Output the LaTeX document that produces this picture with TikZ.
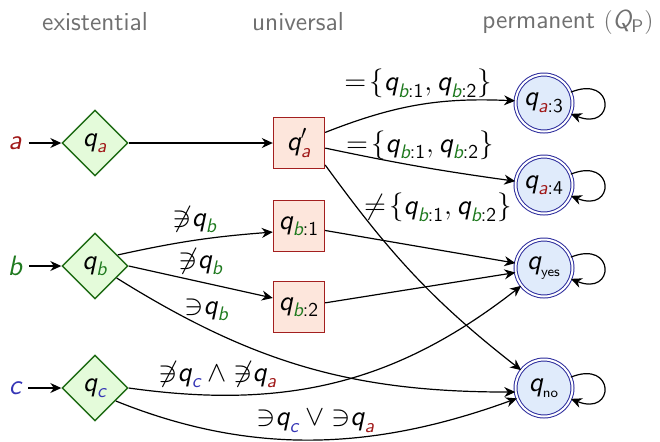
\documentclass[tikz,border=0pt]{standalone}
\usepackage{amsmath}
\usetikzlibrary{shapes.geometric,arrows.meta}
\definecolor{cA}{HTML}{A01818}
\definecolor{cB}{HTML}{1F7A1F}
\definecolor{cC}{HTML}{3535B5}
\definecolor{exFill}{HTML}{E4FBDA}
\definecolor{exDraw}{HTML}{1E6B14}
\definecolor{unFill}{HTML}{FDE6DC}
\definecolor{unDraw}{HTML}{A31F1F}
\definecolor{pmFill}{HTML}{E0EBFB}
\definecolor{pmDraw}{HTML}{2B2B9C}
\definecolor{hdr}{HTML}{707070}
\newcommand\qq{\text{\itshape q}}
\newcommand\ia{\text{\color{cA}\itshape a}}
\newcommand\ib{\text{\color{cB}\itshape b}}
\newcommand\ic{\text{\color{cC}\itshape c}}
\newcommand\qbn[1]{\qq_{\ib\text{:#1}}}
\newcommand\nni{{\not\ni}}
\newcommand\yni{{\ni}}
\tikzset{
  every node/.style={font=\sffamily\fontsize{14}{16}\selectfont},
  hdrtext/.style={text=hdr, font=\sffamily\fontsize{13}{15}\selectfont},
  exstate/.style={diamond, draw=exDraw, fill=exFill, line width=0.7pt, minimum width=33pt, minimum height=33pt, inner sep=0pt},
  unstate/.style={rectangle, draw=unDraw, fill=unFill, line width=0.7pt, minimum width=25.5pt, minimum height=25.5pt, inner sep=0pt},
  pmstate/.style={circle, draw=pmDraw, fill=pmFill, line width=0.5pt, double=white, double distance=1pt, minimum size=28.5pt, inner sep=0pt},
  conn/.style={-{Stealth[length=5.5pt,width=5pt]}, line width=0.6pt},
  selfloop/.style={conn, out=22, in=-22, distance=24pt}
}
\begin{document}
\begin{tikzpicture}[x=0.5pt,y=-0.5pt]
\useasboundingbox (0,0) rectangle (660,441);
% headers
\node[hdrtext] (h1) at (95,22) {existential};
\node[hdrtext] (h2) at (298,22) {universal};
\node[hdrtext] (h3) at (568,22) {permanent $(\text{\itshape Q}_{\text{P}})$};
% inputs
\node (la) at (15,143) {$\ia$};
\node (lb) at (15,266) {$\ib$};
\node (lc) at (15,388) {$\ic$};
% existential
\node[exstate] (qa) at (95,143) {$\qq_{\ia}$};
\node[exstate] (qb) at (95,266) {$\qq_{\ib}$};
\node[exstate] (qc) at (95,388) {$\qq_{\ic}$};
% universal
\node[unstate] (qap) at (299,143) {$\qq'_{\ia}$};
\node[unstate] (qb1) at (299,226) {$\qbn{1}$};
\node[unstate] (qb2) at (299,307) {$\qbn{2}$};
% permanent
\node[pmstate] (p3) at (544,103) {$\qq_{\ia\text{:3}}$};
\node[pmstate] (p4) at (544,185) {$\qq_{\ia\text{:4}}$};
\node[pmstate] (py) at (544,268) {$\qq_{\scriptscriptstyle\text{yes}}$};
\node[pmstate] (pn) at (544,388) {$\qq_{\scriptscriptstyle\text{no}}$};
% input arrows
\draw[conn] (la) -- (qa);
\draw[conn] (lb) -- (qb);
\draw[conn] (lc) -- (qc);
% a
\draw[conn] (qa) -- (qap);
\draw[conn] (qap.22) to[bend left=12] node[above, pos=0.5] {$=\!\{\qbn{1},\qbn{2}\}$} (p3);
\draw[conn] (qap.-11) to[bend right=2] node[above, pos=0.5] {$=\!\{\qbn{1},\qbn{2}\}$} (p4);
\draw[conn] (qap.-40) to[out=-54, in=142] node[anchor=west, pos=0.17] {$\neq\!\{\qbn{1},\qbn{2}\}$} (pn);
% b
\draw[conn] (qb.26) to[bend left=4] node[above, pos=0.5] {$\nni\qq_{\ib}$} (qb1.193);
\draw[conn] (qb.east) -- node[above, pos=0.5] {$\nni\qq_{\ib}$} (qb2.161);
\draw[conn] (qb.-29) to[out=-32, in=180] node[above, pos=0.23] {$\yni\qq_{\ib}$} (pn.188);
\draw[conn] (qb1) -- (py);
\draw[conn] (qb2) -- (py);
% c
\draw[conn] (qc.east) to[out=-8, in=-142] node[above, pos=0.2] {$\nni\qq_{\ic}\land\nni\qq_{\ia}$} (py.218);
\draw[conn] (qc.-32) to[out=-22, in=-160, looseness=0.95] node[above, pos=0.5] {$\yni\qq_{\ic}\lor\yni\qq_{\ia}$} (pn.201);
% loops
\draw[selfloop] (p3) to (p3);
\draw[selfloop] (p4) to (p4);
\draw[selfloop] (py) to (py);
\draw[selfloop] (pn) to (pn);
\end{tikzpicture}
\end{document}
